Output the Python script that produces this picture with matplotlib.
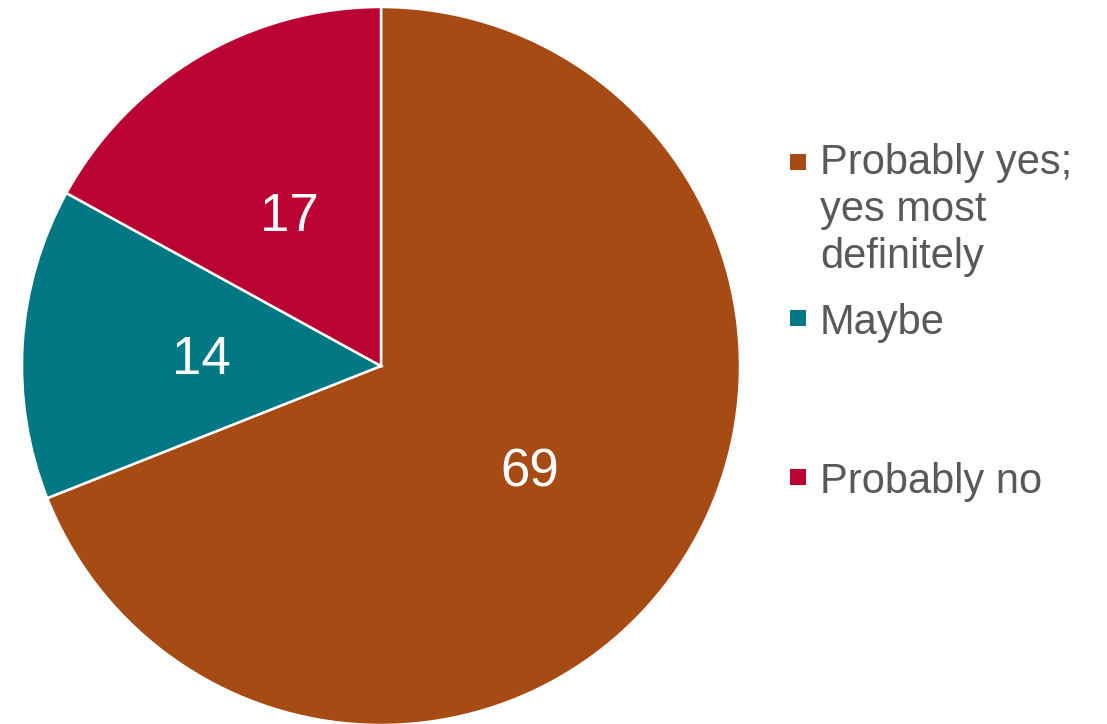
import matplotlib.pyplot as plt
from matplotlib.patches import Rectangle

plt.rcParams['font.family'] = ['Liberation Sans', 'DejaVu Sans']

labels = ['Probably yes;\nyes most\ndefinitely', 'Maybe', 'Probably no']
values = [69, 14, 17]
colors = ['#A64B14', '#027884', '#BA0333']

W, H = 1107, 724
fig = plt.figure(figsize=(W / 100, H / 100), dpi=100)

# pie axes in pixel coordinates: centre (381, 366), radius ~359
cx, cy, r = 381, 366, 359
ax = fig.add_axes([(cx - r) / W, (H - cy - r) / H, 2 * r / W, 2 * r / H])
ax.pie(values, colors=colors, startangle=90, counterclock=False, radius=1,
       autopct=lambda p: f'{p:.0f}', pctdistance=0.5,
       wedgeprops=dict(edgecolor='white', linewidth=1.8),
       textprops=dict(color='white', fontsize=38))
for t in ax.texts:
    t.set_va('center_baseline')
ax.set_xlim(-1.0, 1.0)
ax.set_ylim(-1.0, 1.0)
ax.set_aspect('equal')
ax.axis('off')

# manual legend (uneven vertical spacing in the original)
legend_y = [162, 318, 477]
for lab, col, y in zip(labels, colors, legend_y):
    fig.patches.append(Rectangle((790 / W, (H - y - 8) / H), 16 / W, 16 / H,
                                 transform=fig.transFigure, facecolor=col,
                                 edgecolor='none'))
    if '\n' in lab:
        fig.text(820 / W, (H - y + 19) / H, lab, fontsize=30, color='#595959',
                 va='top', ha='left', linespacing=1.23)
    else:
        fig.text(820 / W, (H - y) / H, lab, fontsize=30, color='#595959',
                 va='center_baseline', ha='left')

fig.savefig('out.png', dpi=100)
